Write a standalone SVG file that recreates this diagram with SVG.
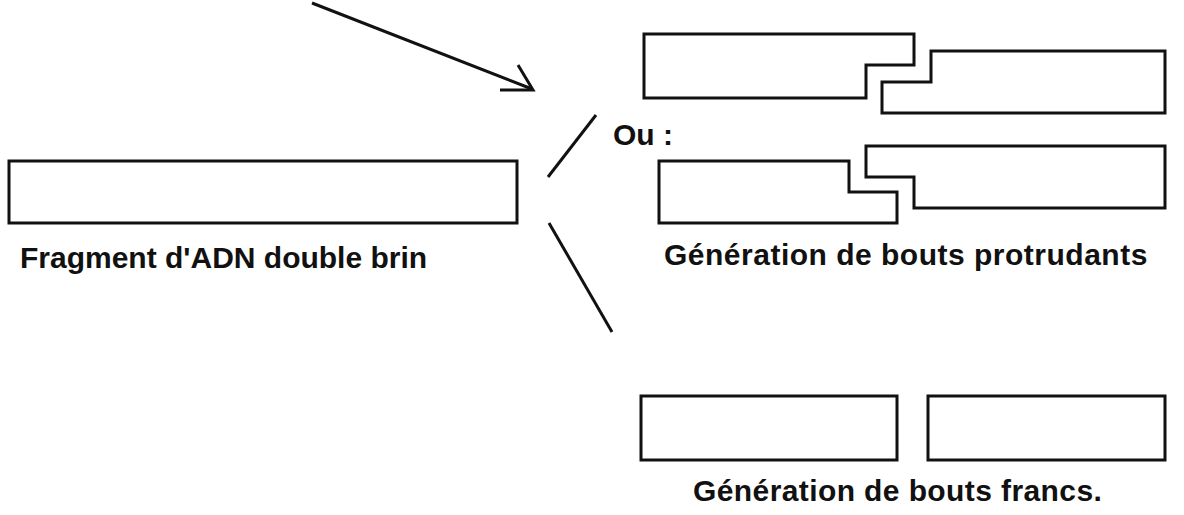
<svg xmlns="http://www.w3.org/2000/svg" width="1184" height="515" viewBox="0 0 1184 515">
<style>
.s{fill:none;stroke:#111;stroke-width:3;stroke-linejoin:miter}
.t{font-family:"Liberation Sans",Arial,sans-serif;font-weight:bold;font-size:30px;fill:#111}
</style>
<rect width="1184" height="515" fill="#fff"/>
<g id="fragment">
<rect class="s" x="9" y="161" width="508" height="62"/>
<text class="t" x="20" y="268">Fragment d'ADN double brin</text>
</g>
<g id="protrudants1">
<path class="s" d="M644,34 H914 V65 H866 V98 H644 Z"/>
<path class="s" d="M931,51 H1165 V113 H882 V82 H931 Z"/>
</g>
<g id="ou">
<text class="t" x="613" y="145">Ou :</text>
</g>
<g id="protrudants2">
<path class="s" d="M659,161 H849 V192 H897 V223 H659 Z"/>
<path class="s" d="M866,146 H1165 V208 H914 V177 H866 Z"/>
<text class="t" x="664" y="265" style="letter-spacing:0.5px">Génération de bouts protrudants</text>
</g>
<g id="francs">
<rect class="s" x="641" y="396" width="256" height="64"/>
<rect class="s" x="928" y="396" width="237" height="64"/>
<text class="t" x="693" y="501" style="letter-spacing:0.4px">Génération de bouts francs.</text>
</g>
<g id="connectors">
<line class="s" x1="312" y1="3" x2="532" y2="89"/>
<path class="s" d="M500,90 L533,90 L518,65"/>
<line class="s" x1="548" y1="177" x2="596" y2="115"/>
<line class="s" x1="549" y1="223" x2="612" y2="332"/>
</g>
</svg>
